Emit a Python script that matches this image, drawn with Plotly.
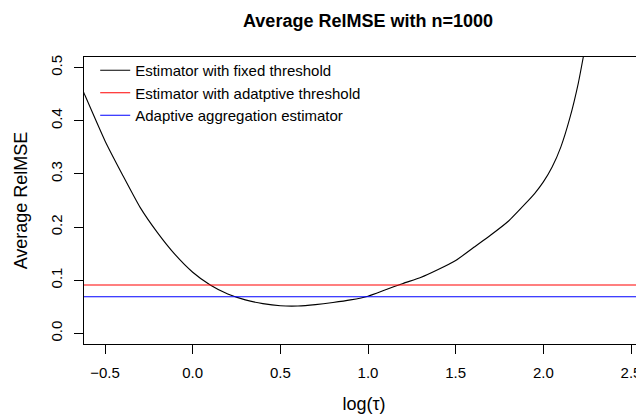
import plotly.graph_objects as go

# ---- data ----
log_tau = [-0.65, -0.62, -0.5, -0.4, -0.3, -0.2, -0.1, 0.0, 0.1, 0.2, 0.3, 0.4, 0.5, 0.6,
           0.7, 0.8, 0.9, 1.0, 1.1, 1.2, 1.3, 1.4, 1.5, 1.6, 1.7, 1.8, 1.9, 1.95, 2.0,
           2.05, 2.1, 2.15, 2.2, 2.25]
relmse_fixed = [0.475, 0.452, 0.362, 0.298, 0.237, 0.189, 0.148, 0.115, 0.091, 0.074,
                0.063, 0.056, 0.052, 0.0515, 0.054, 0.058, 0.063, 0.070, 0.082,
                0.094, 0.105, 0.120, 0.137, 0.161, 0.185, 0.211, 0.245, 0.263, 0.285,
                0.313, 0.351, 0.404, 0.472, 0.56]
relmse_adaptive_threshold = 0.091
relmse_aggregation = 0.069

x_ticks = [-0.5, 0.0, 0.5, 1.0, 1.5, 2.0, 2.5]
y_ticks = [0.0, 0.1, 0.2, 0.3, 0.4, 0.5]
x_range = [-0.62, 2.574]
y_range = [-0.02, 0.52]

FONT = "Liberation Sans, Arial, Helvetica, sans-serif"

# page body has an 8px default margin -> figure is 8px smaller than the window
W, H = 636, 406

fig = go.Figure()
fig.add_trace(go.Scatter(x=log_tau, y=relmse_fixed, mode="lines",
                         line=dict(color="black", width=1.1, shape="spline", smoothing=0.5),
                         name="Estimator with fixed threshold"))
fig.add_trace(go.Scatter(x=x_range, y=[relmse_adaptive_threshold] * 2, mode="lines",
                         line=dict(color="#ff0000", width=1.1),
                         name="Estimator with adatptive threshold"))
fig.add_trace(go.Scatter(x=x_range, y=[relmse_aggregation] * 2, mode="lines",
                         line=dict(color="#0000ff", width=1.1),
                         name="Adaptive aggregation estimator"))

fig.update_layout(
    width=W, height=H,
    margin=dict(l=76, r=0, t=49, b=70),
    paper_bgcolor="white", plot_bgcolor="white",
    font=dict(family=FONT, size=15, color="black"),
    title=dict(text="<b>Average RelMSE with n=1000</b>", xref="container", yref="container",
               x=360 / W, y=1 - 13 / H, xanchor="center", yanchor="middle",
               font=dict(size=18, family=FONT, color="black")),
    showlegend=True,
    legend=dict(x=0.02, y=1 + 3 / 287, xanchor="left", yanchor="top",
                bgcolor="rgba(0,0,0,0)", font=dict(size=15, family=FONT),
                tracegroupgap=0, itemwidth=30),
    xaxis=dict(range=x_range, tickvals=x_ticks, tickformat=".1f", automargin=False,
               showgrid=False, zeroline=False, showline=True, linecolor="black",
               linewidth=1, mirror=True, ticks="outside", ticklen=9, tickcolor="black",
               tickfont=dict(size=15), ticklabelstandoff=6,
               title=dict(text="log(τ)", standoff=18)),
    yaxis=dict(range=y_range, tickvals=y_ticks, tickformat=".1f", automargin=False,
               showgrid=False, zeroline=False, showline=True, linecolor="black",
               linewidth=1, ticks="outside", ticklen=9, tickcolor="black",
               tickangle=-90, tickfont=dict(size=15), ticklabelstandoff=6,
               title=dict(text="Average RelMSE", standoff=15)),
)

fig.write_html("out.html")
